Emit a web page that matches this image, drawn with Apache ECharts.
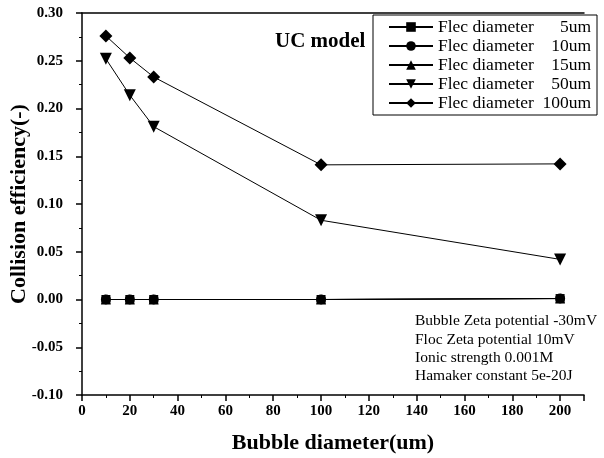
<!DOCTYPE html>
<html>
<head>
<meta charset="utf-8">
<script src="https://cdn.jsdelivr.net/npm/echarts@6/dist/echarts.min.js"></script>
<style>
  html, body { margin: 0; padding: 0; background: #fff; }
  #chart { width: 604px; height: 458px; }
</style>
</head>
<body>
<div id="chart"></div>
<script>
// Bubble diameters (um) at which collision efficiency was computed
const bubbleDiameters = [10, 20, 30, 100, 200];

// Collision efficiency for each floc diameter
const flec5um   = [0.000, 0.000, 0.000, 0.000, 0.001];
const flec10um  = [0.000, 0.000, 0.000, 0.000, 0.001];
const flec15um  = [0.000, 0.000, 0.000, 0.000, 0.001];
const flec50um  = [0.252, 0.214, 0.181, 0.083, 0.042];
const flec100um = [0.276, 0.253, 0.233, 0.141, 0.142];

const seriesNames = [
  'Flec diameter|5um',
  'Flec diameter|10um',
  'Flec diameter|15um',
  'Flec diameter|50um',
  'Flec diameter|100um'
];

const conditions = [
  'Bubble Zeta potential -30mV',
  'Floc Zeta potential 10mV',
  'Ionic strength 0.001M',
  'Hamaker constant 5e-20J'
];

const serif = '"Liberation Serif", "DejaVu Serif", serif';

function pairs(ys) {
  return bubbleDiameters.map((x, i) => [x, ys[i]]);
}

function lineSeries(name, ys, symbol, size, z) {
  return {
    name: name,
    type: 'line',
    data: pairs(ys),
    symbol: symbol,
    symbolSize: size,
    z: z,
    lineStyle: { color: '#000', width: 1 },
    itemStyle: { color: '#000' },
    emphasis: { disabled: true },
    animation: false
  };
}

const chart = echarts.init(document.getElementById('chart'), null, { renderer: 'canvas' });

chart.setOption({
  backgroundColor: '#fff',
  animation: false,
  textStyle: { fontFamily: serif },
  grid: { left: 82, right: 20, top: 13, bottom: 63, containLabel: false, outerBoundsMode: 'none' },
  legend: {
    orient: 'vertical',
    left: 373,
    top: 15,
    padding: [3, 6, 3, 15],
    itemGap: 1,
    itemWidth: 44,
    itemHeight: 12,
    borderColor: '#000',
    borderWidth: 1,
    backgroundColor: '#fff',
    data: seriesNames,
    formatter: function (name) {
      const parts = name.split('|');
      return '{a|' + parts[0] + '}{b|' + parts[1] + '}';
    },
    textStyle: {
      fontFamily: serif,
      fontSize: 17.5,
      color: '#000',
      rich: {
        a: { fontFamily: serif, fontSize: 17.5, lineHeight: 18, color: '#000', width: 106 },
        b: { fontFamily: serif, fontSize: 17.5, lineHeight: 18, color: '#000', width: 47, align: 'right' }
      }
    }
  },
  xAxis: [{
    type: 'value',
    min: 0,
    max: 210,
    interval: 20,
    name: 'Bubble diameter(um)',
    nameLocation: 'middle',
    nameGap: 37,
    nameMoveOverlap: false,
    nameTextStyle: { fontFamily: serif, fontSize: 22, fontWeight: 'bold', color: '#000' },
    axisLine: { show: true, onZero: false, lineStyle: { color: '#000', width: 1.5 } },
    axisTick: { show: true, length: 6, lineStyle: { color: '#000', width: 1.5 } },
    minorTick: { show: true, splitNumber: 2, length: 3, lineStyle: { color: '#000', width: 1 } },
    axisLabel: {
      showMaxLabel: false,
      margin: 9,
      fontFamily: serif, fontSize: 15, fontWeight: 'bold', color: '#000'
    },
    splitLine: { show: false }
  }, {
    type: 'value',
    position: 'top',
    min: 0,
    max: 210,
    axisLine: { show: true, onZero: false, lineStyle: { color: '#000', width: 1.5 } },
    axisTick: { show: false },
    axisLabel: { show: false },
    splitLine: { show: false }
  }],
  yAxis: {
    type: 'value',
    min: -0.10,
    max: 0.30,
    interval: 0.05,
    name: 'Collision efficiency(-)',
    nameLocation: 'middle',
    nameGap: 52,
    nameMoveOverlap: false,
    nameTextStyle: { fontFamily: serif, fontSize: 22, fontWeight: 'bold', color: '#000' },
    axisLine: { show: true, onZero: false, lineStyle: { color: '#000', width: 1.5 } },
    axisTick: { show: true, length: 6, lineStyle: { color: '#000', width: 1.5 } },
    minorTick: { show: true, splitNumber: 2, length: 3, lineStyle: { color: '#000', width: 1 } },
    axisLabel: {
      margin: 19,
      fontFamily: serif, fontSize: 15, fontWeight: 'bold', color: '#000',
      formatter: v => v.toFixed(2)
    },
    splitLine: { show: false }
  },
  graphic: [
    {
      type: 'text',
      left: 275,
      top: 31,
      style: { text: 'UC model', font: 'bold 21px ' + serif, fill: '#000' }
    },
    {
      type: 'text',
      left: 415,
      top: 312,
      style: {
        text: conditions.join('\n'),
        font: '15.5px ' + serif,
        lineHeight: 18.3,
        fill: '#000'
      }
    }
  ],
  series: [
    lineSeries(seriesNames[0], flec5um, 'rect', 9, 3),
    lineSeries(seriesNames[1], flec10um, 'circle', 10, 4),
    lineSeries(seriesNames[2], flec15um, 'triangle', 10, 5),
    lineSeries(seriesNames[3], flec50um, 'path://M0,0 L10,0 L5,10 Z', 12, 6),
    lineSeries(seriesNames[4], flec100um, 'diamond', 13, 7)
  ]
});
</script>
</body>
</html>
